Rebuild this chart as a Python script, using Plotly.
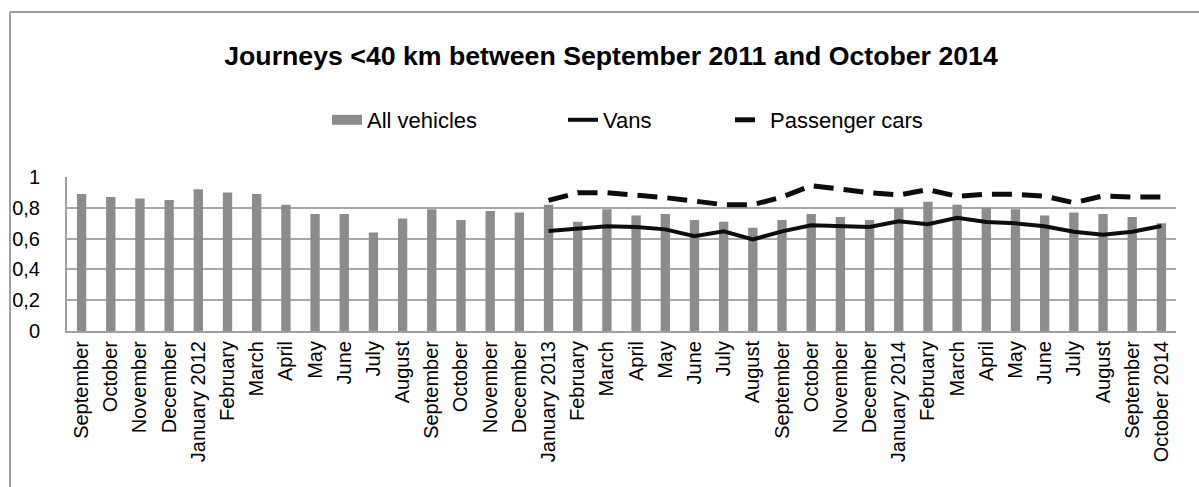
import plotly.graph_objects as go

FONT = "Liberation Sans, Arial, sans-serif"

# Month labels, September 2011 .. October 2014 (labels repeat, so plot on index)
MONTHS = [
    "September", "October", "November", "December",
    "January 2012", "February", "March", "April", "May", "June", "July",
    "August", "September", "October", "November", "December",
    "January 2013", "February", "March", "April", "May", "June", "July",
    "August", "September", "October", "November", "December",
    "January 2014", "February", "March", "April", "May", "June", "July",
    "August", "September", "October 2014",
]

ALL_VEHICLES = [
    0.89, 0.87, 0.86, 0.85,
    0.92, 0.90, 0.89, 0.82, 0.76, 0.76, 0.64, 0.73, 0.79, 0.72, 0.78, 0.77,
    0.82, 0.71, 0.79, 0.75, 0.76, 0.72, 0.71, 0.67, 0.72, 0.76, 0.74, 0.72,
    0.80, 0.84, 0.82, 0.80, 0.79, 0.75, 0.77, 0.76, 0.74, 0.70,
]

# Vans and passenger cars only from January 2013 onward
LINE_START = 16
VANS = [
    0.650, 0.665, 0.680, 0.675, 0.660, 0.615, 0.647, 0.595, 0.647, 0.686, 0.680,
    0.675, 0.713, 0.693, 0.735, 0.708, 0.699, 0.680, 0.645, 0.625, 0.645, 0.682,
]
PASSENGER_CARS = [
    0.848, 0.898, 0.898, 0.885, 0.866, 0.844, 0.820, 0.820, 0.870, 0.944, 0.920,
    0.898, 0.883, 0.918, 0.875, 0.888, 0.888, 0.875, 0.833, 0.877, 0.870, 0.870,
]

x_idx = list(range(len(MONTHS)))
x_line = x_idx[LINE_START:]

# plot area in pixels
L, R, T, B = 67, 1176, 177, 331
PW, PH = R - L, B - T


def px_x(px):
    return (px - L) / PW


def px_y(py):
    return (B - py) / PH


fig = go.Figure()

fig.add_trace(go.Bar(
    x=x_idx, y=ALL_VEHICLES, name="All vehicles",
    marker=dict(color="#8c8c8c", line=dict(width=0)),
    showlegend=False,
))
# legend stand-in so the swatch is a wide grey block like the original
fig.add_trace(go.Scatter(
    x=[None], y=[None], name="All vehicles", mode="lines",
    line=dict(color="#8c8c8c", width=12), legend="legend",
))
fig.add_trace(go.Scatter(
    x=x_line, y=VANS, name="Vans", mode="lines",
    line=dict(color="#0d0d0d", width=4), legend="legend2",
))
fig.add_trace(go.Scatter(
    x=x_line, y=PASSENGER_CARS, name="Passenger cars", mode="lines",
    line=dict(color="#0d0d0d", width=5, dash="20px,10px"), legend="legend3",
))

# outer chart frame (only top and left edges are in view)
fig.add_shape(type="line", xref="paper", yref="paper",
              x0=px_x(10), x1=px_x(1210), y0=px_y(12), y1=px_y(12),
              line=dict(color="#a0a0a0", width=2))
fig.add_shape(type="line", xref="paper", yref="paper",
              x0=px_x(10), x1=px_x(10), y0=px_y(12), y1=px_y(500),
              line=dict(color="#a0a0a0", width=2))


def legend_at(text_left):
    return dict(
        orientation="h", x=px_x(text_left - 42), xanchor="left",
        y=px_y(120), yanchor="middle",
        font=dict(family=FONT, size=22, color="black"),
        bgcolor="rgba(0,0,0,0)", borderwidth=0,
    )


fig.update_layout(
    width=1199, height=487,
    margin=dict(l=L, r=1199 - R, t=T, b=487 - B),
    paper_bgcolor="white", plot_bgcolor="white",
    font=dict(family=FONT, size=20, color="black"),
    separators=", ",
    bargap=0.68,
    title=dict(
        text="<b>Journeys <40 km between September 2011 and October 2014</b>",
        x=611 / 1199, xanchor="center", xref="container",
        y=1 - 56 / 487, yanchor="middle", yref="container",
        font=dict(family=FONT, size=26.7, color="black"),
    ),
    legend=legend_at(369),
    legend2=legend_at(605),
    legend3=legend_at(772),
    xaxis=dict(
        tickmode="array", tickvals=x_idx, ticktext=MONTHS,
        tickangle=-90, range=[-0.5, len(MONTHS) - 0.5],
        showgrid=False, showline=True, linecolor="#a0a0a0", linewidth=2,
        ticks="", zeroline=False, automargin=False,
        tickfont=dict(family=FONT, size=20, color="black"),
    ),
    yaxis=dict(
        range=[0, 1], dtick=0.2, tick0=0,
        showgrid=True, gridcolor="#a8a8a8", gridwidth=2,
        showline=True, linecolor="#a0a0a0", linewidth=2,
        zeroline=False, ticks="", ticklabelstandoff=21, automargin=False,
        tickfont=dict(family=FONT, size=20, color="black"),
    ),
)

# drop the default page margin so the figure sits at the window's top-left
fig.write_html(
    "out.html",
    config={"displayModeBar": False},
    post_script="document.body.style.margin='0';",
)
